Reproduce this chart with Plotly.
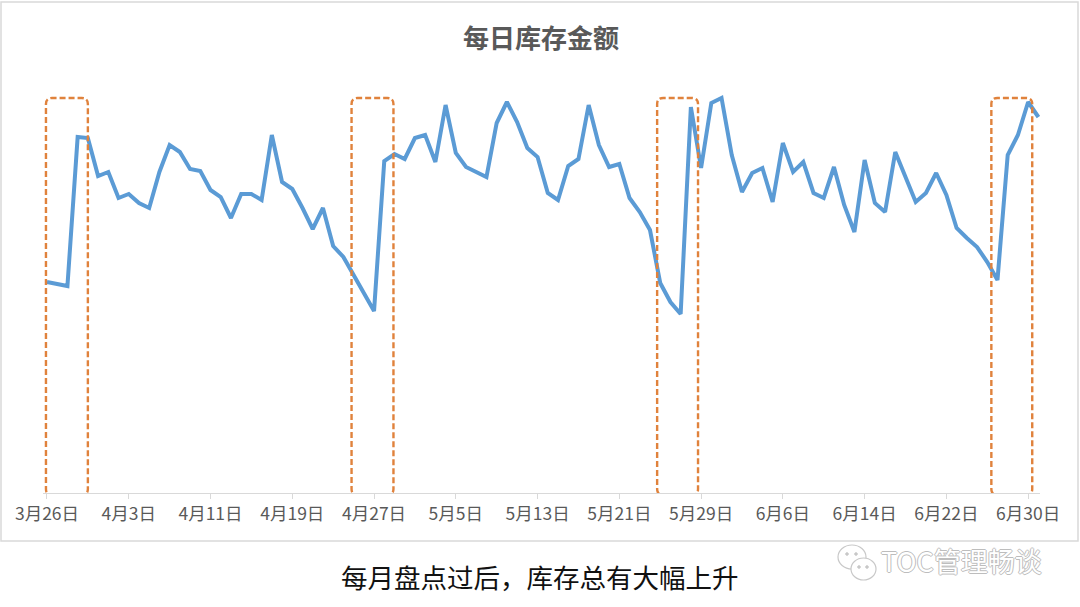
import pandas as pd
import plotly.graph_objects as go

# ---------------- data ----------------
START_DATE = "2023-03-26"
inventory = [
    211, 209, 207, 356, 355, 317, 321, 295, 299, 290,
    285, 321, 348, 341, 324, 322, 303, 296, 275, 299,
    299, 293, 358, 311, 304, 285, 264, 285, 247, 236,
    218, 201, 182, 332, 339, 334, 355, 358, 331, 388,
    340, 326, 321, 316, 370, 391, 371, 345, 336, 300,
    293, 327, 334, 388, 348, 326, 329, 295, 281, 263,
    210, 191, 179, 386, 325, 390, 395, 338, 301, 320,
    325, 291, 350, 321, 331, 300, 295, 326, 288, 261,
    333, 290, 281, 341, 316, 291, 300, 320, 298, 265,
    255, 246, 231, 213, 338, 358, 391, 376,
]
dates = pd.date_range(START_DATE, periods=len(inventory), freq="D")
day_idx = [(d - dates[0]).days for d in dates]

tick_step = 8
tick_days = day_idx[::tick_step]
tick_labels = [f"{dates[i].month}月{dates[i].day}日" for i in tick_days]

# monthly stock-take windows (in days from start) highlighted with dashed boxes
check_windows = [(-0.1, 4.0), (29.8, 33.9), (59.7, 63.7), (92.4, 96.4)]

title_text = "每日库存金额"
caption_text = "每月盘点过后，库存总有大幅上升"
watermark_text = "TOC管理畅谈"

# ---------------- layout geometry ----------------
W, H = 1080, 607
ML, MR, MT, MB = 43, 40, 83, 114
PW, PH = W - ML - MR, H - MT - MB
FONT = "Noto Sans CJK SC"


def px(x):
    return (x - ML) / PW


def py(y):
    return (H - MB - y) / PH


fig = go.Figure()
fig.add_trace(go.Scatter(
    x=day_idx, y=inventory, mode="lines",
    line=dict(color="#5B9BD5", width=4),
    hoverinfo="skip", showlegend=False,
))

shapes = []
# outer chart frame
shapes.append(dict(type="rect", xref="paper", yref="paper",
                   x0=px(1), x1=px(1078), y0=py(541), y1=py(2),
                   line=dict(color="#D9D9D9", width=1.5), fillcolor="rgba(0,0,0,0)",
                   layer="below"))

rx, ry = 0.6, 6
y0b, y1b = -2, 395
for a, b in check_windows:
    path = (f"M {a+rx},{y0b} L {b-rx},{y0b} Q {b},{y0b} {b},{y0b+ry} "
            f"L {b},{y1b-ry} Q {b},{y1b} {b-rx},{y1b} L {a+rx},{y1b} "
            f"Q {a},{y1b} {a},{y1b-ry} L {a},{y0b+ry} Q {a},{y0b} {a+rx},{y0b} Z")
    shapes.append(dict(type="path", xref="x", yref="y", path=path,
                       line=dict(color="#E0823C", width=2.4, dash="6px,3px"),
                       fillcolor="rgba(0,0,0,0)", layer="above"))

# simple WeChat-like watermark icon
shapes.append(dict(type="circle", xref="paper", yref="paper",
                   x0=px(838), x1=px(866), y0=py(569), y1=py(545),
                   line=dict(color="#C8C8C8", width=1.2), fillcolor="white"))
shapes.append(dict(type="circle", xref="paper", yref="paper",
                   x0=px(851), x1=px(876), y0=py(580), y1=py(558),
                   line=dict(color="#C8C8C8", width=1.2), fillcolor="white"))
for cx, cy in [(847, 554), (856, 554), (859, 567), (867, 567)]:
    shapes.append(dict(type="circle", xref="paper", yref="paper",
                       x0=px(cx - 1.3), x1=px(cx + 1.3), y0=py(cy + 1.3), y1=py(cy - 1.3),
                       line=dict(color="#C8C8C8", width=1), fillcolor="#C8C8C8"))

annotations = [
    dict(text=title_text, xref="paper", yref="paper", x=px(541), y=py(37),
         xanchor="center", yanchor="middle", showarrow=False,
         font=dict(family=FONT, size=26, color="#595959", weight="bold")),
    dict(text=caption_text, xref="paper", yref="paper", x=px(540), y=py(576),
         xanchor="center", yanchor="middle", showarrow=False,
         font=dict(family=FONT, size=26.5, color="#111111")),
    dict(text=watermark_text, xref="paper", yref="paper", x=px(879), y=py(560),
         xanchor="left", yanchor="middle", showarrow=False,
         font=dict(family=FONT, size=27, color="#FFFFFF",
                   shadow="1px 0 0 #BDBDBD, -1px 0 0 #BDBDBD, 0 1px 0 #BDBDBD, 0 -1px 0 #BDBDBD")),
]

fig.update_layout(
    width=W, height=H,
    margin=dict(l=ML, r=MR, t=MT, b=MB, pad=0),
    paper_bgcolor="white", plot_bgcolor="white",
    shapes=shapes, annotations=annotations,
    xaxis=dict(range=[-0.39, 97.16], tickmode="array", tickvals=tick_days,
               ticktext=tick_labels, showgrid=False, zeroline=False,
               showline=True, linecolor="#D9D9D9", linewidth=1.3,
               ticks="outside", ticklen=5, tickcolor="#D9D9D9", tickwidth=1.3,
               tickfont=dict(family=FONT, size=17.5, color="#595959"),
               fixedrange=True),
    yaxis=dict(range=[0, PH], visible=False, fixedrange=True),
    showlegend=False,
)

fig.write_html(
    "out.html",
    config={"displayModeBar": False},
    post_script="document.body.style.margin='0';document.body.style.overflow='hidden';",
)
